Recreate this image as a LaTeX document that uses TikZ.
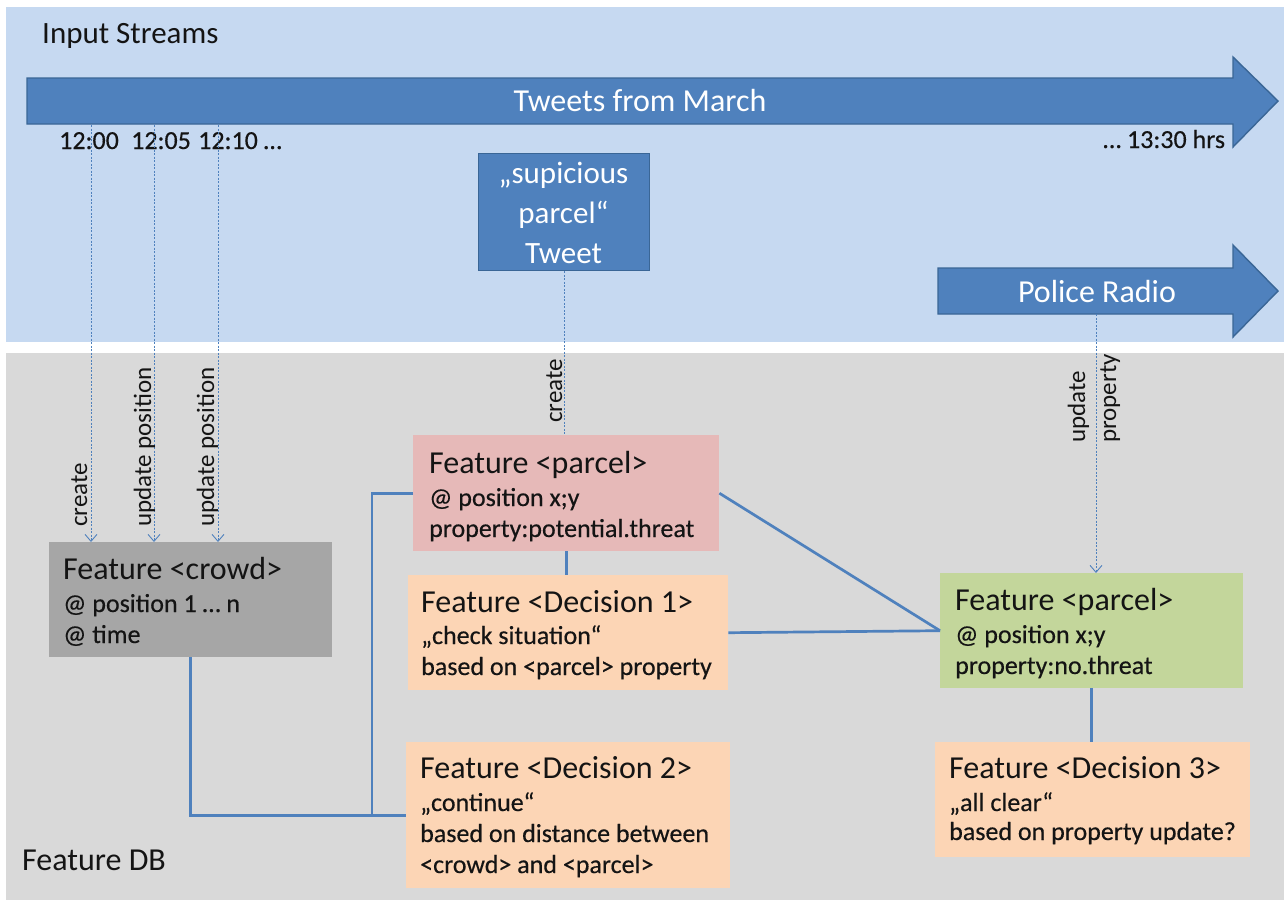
\documentclass[tikz,border=0pt]{standalone}
\usepackage{fontspec}
\setmainfont{Carlito}
\newfontfamily\subfont{Carlito}[FakeBold=0.4]
\usetikzlibrary{arrows.meta}

\definecolor{panelblue}{HTML}{C6D9F1}
\definecolor{panelgray}{HTML}{D9D9D9}
\definecolor{streamfill}{HTML}{4F81BD}
\definecolor{streamedge}{HTML}{3A6696}
\definecolor{crowdgray}{HTML}{A6A6A6}
\definecolor{threatpink}{HTML}{E6B9B8}
\definecolor{decisionorange}{HTML}{FCD5B5}
\definecolor{clearGreen}{HTML}{C3D69B}
\definecolor{linkblue}{HTML}{4F81BD}
\definecolor{inkdark}{HTML}{141414}

\begin{document}
\begin{tikzpicture}[x=1pt,y=-1pt,
  stream/.style={fill=streamfill,draw=streamedge,line width=1.4pt,line join=miter},
  streamtext/.style={text=white,font=\fontsize{32}{38}\selectfont,inner sep=0pt},
  fbox/.style={draw=none,inner sep=0pt,anchor=north west},
  hdr/.style={font=\fontsize{32}{38}\selectfont,text=inkdark,anchor=base west,inner sep=0pt},
  sub/.style={font=\subfont\fontsize{26}{31}\selectfont,text=inkdark,anchor=base west,inner sep=0pt},
  timelbl/.style={font=\subfont\fontsize{26}{31}\selectfont,text=inkdark,anchor=base west,inner sep=0pt},
  vlbl/.style={font=\fontsize{25}{30}\selectfont,text=inkdark,rotate=90,anchor=base west,inner sep=0pt},
  feed/.style={draw=linkblue,line width=0.9pt,dash pattern=on 2pt off 1.5pt},
  feedtip/.style={-{Straight Barb[length=7pt,width=12pt,line width=0.9pt]}},
  link/.style={draw=linkblue,line width=2.7pt}
]
\useasboundingbox (0,0) rectangle (1288,906);

% background panels
\fill[panelblue] (6,7) rectangle (1284,342);
\fill[panelgray] (6,353) rectangle (1284,900);

\node[font=\fontsize{31}{36}\selectfont,text=inkdark,anchor=base west,inner sep=0pt] (instreams) at (42,43) {Input Streams};
\node[font=\fontsize{32}{38}\selectfont,text=inkdark,anchor=base west,inner sep=0pt] (featdb) at (22,870) {Feature DB};

% tweet stream arrow
\draw[stream] (27,78) -- (1233,78) -- (1233,57) -- (1278,101) -- (1233,147) -- (1233,124) -- (27,124) -- cycle;
\node[streamtext] (tweets) at (640,101) {Tweets from March};

% police radio arrow
\draw[stream] (938,268) -- (1233,268) -- (1233,245) -- (1278,291) -- (1233,337) -- (1233,314) -- (938,314) -- cycle;
\node[streamtext] (radio) at (1097,291) {Police Radio};

% time marks
\node[timelbl] (t1) at (59,149) {12:00};
\node[timelbl] (t2) at (131,149) {12:05};
\node[timelbl] (t3) at (198,149) {12:10 …};
\node[timelbl] (tend) at (1103,148) {… 13:30 hrs};

% tweet box
\node[fbox,fill=streamfill,draw=streamedge,line width=1.4pt,minimum width=171pt,minimum height=117pt] (tweet) at (478,153) {};
\node[text=white,font=\fontsize{31}{40}\selectfont,align=center,inner sep=0pt] (tweettxt) at (563.5,213) {„supicious\\parcel“\\Tweet};

% feature boxes
\node[fbox,fill=crowdgray,minimum width=283pt,minimum height=115pt] (crowd) at (49,542) {};
\node[hdr] (crowdA) at (63,579) {Feature <crowd>};
\node[sub] (crowdB) at (63,612) {@ position 1 … n};
\node[sub] (crowdC) at (63,643) {@ time};

\node[fbox,fill=threatpink,minimum width=306pt,minimum height=116pt] (pink) at (413,435) {};
\node[hdr] (pinkA) at (429,473) {Feature <parcel>};
\node[sub] (pinkB) at (429,506) {@ position x;y};
\node[sub] (pinkC) at (429,537) {property:potential.threat};

\node[fbox,fill=decisionorange,minimum width=320pt,minimum height=115pt] (dec1) at (408,575) {};
\node[hdr] (dec1A) at (421,612) {Feature <Decision 1>};
\node[sub] (dec1B) at (421,644) {„check situation“};
\node[sub] (dec1C) at (421,675) {based on <parcel> property};

\node[fbox,fill=decisionorange,minimum width=324pt,minimum height=146pt] (dec2) at (406,742) {};
\node[hdr] (dec2A) at (420,778) {Feature <Decision 2>};
\node[sub] (dec2B) at (420,811) {„continue“};
\node[sub] (dec2C) at (420,842) {based on distance between};
\node[sub] (dec2D) at (420,873) {<crowd> and <parcel>};

\node[fbox,fill=clearGreen,minimum width=303pt,minimum height=115pt] (green) at (940,573) {};
\node[hdr] (greenA) at (955,610) {Feature <parcel>};
\node[sub] (greenB) at (955,643) {@ position x;y};
\node[sub] (greenC) at (955,674) {property:no.threat};

\node[fbox,fill=decisionorange,minimum width=315pt,minimum height=115pt] (dec3) at (935,742) {};
\node[hdr] (dec3A) at (949,778) {Feature <Decision 3>};
\node[sub] (dec3B) at (949,811) {„all clear“};
\node[sub] (dec3C) at (949,840) {based on property update?};

% feeds from the streams into the feature store
\coordinate (f1) at (91,125);
\coordinate (f2) at (154,125);
\coordinate (f3) at (218,125);
\coordinate (fr) at (1096,314);
\draw[feed,feedtip] (f1) -- (f1 |- crowd.north);
\draw[feed,feedtip] (f2) -- (f2 |- crowd.north);
\draw[feed,feedtip] (f3) -- (f3 |- crowd.north);
\draw[feed] (tweet.south) -- (tweet.south |- pink.north);
\draw[feed,feedtip] (fr) -- (fr |- green.north);

\node[vlbl] (l1) at (87,527) {create};
\node[vlbl] (l2) at (151,527) {update position};
\node[vlbl] (l3) at (214,527) {update position};
\node[vlbl] (l4) at (562,423) {create};
\node[vlbl] (l5) at (1085,443) {update};
\node[vlbl] (l6) at (1116,443) {property};

% relations between features
\draw[link] (crowd.south) |- (dec2.west);
\draw[link] (pink.west) -- ++(-41,0) |- (dec2.west);
\draw[link] (pink.south) -- (pink.south |- dec1.north);
\draw[link] (pink.east) -- (green.west);
\draw[link] (dec1.east) -- (green.west);
\draw[link] (green.south) -- (green.south |- dec3.north);
\end{tikzpicture}
\end{document}
